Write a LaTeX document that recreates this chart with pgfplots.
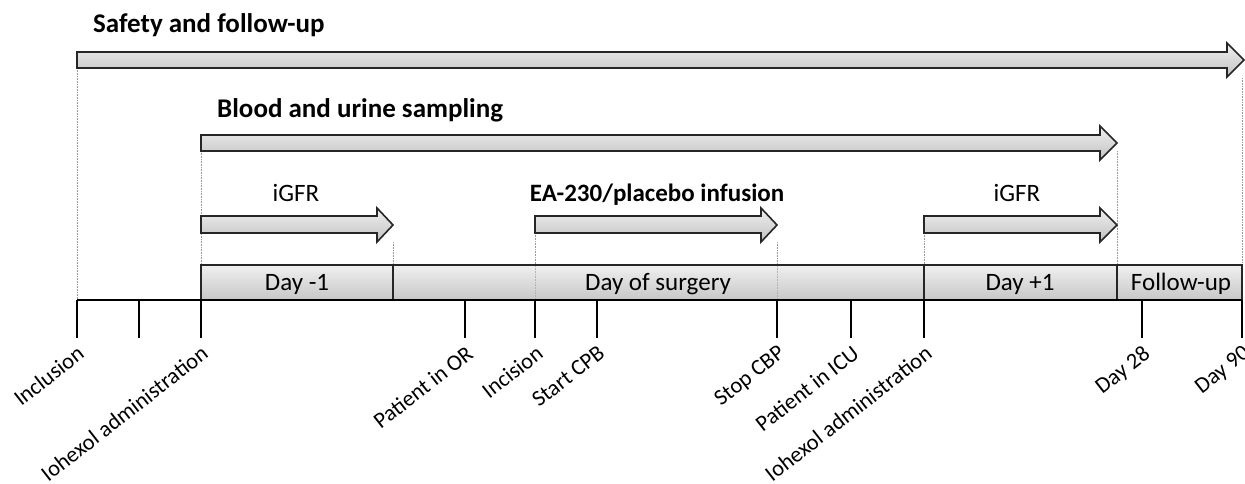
\documentclass[border=0pt]{standalone}
\usepackage{pgfplots}
\pgfplotsset{compat=1.18}
\usepackage{fontspec}
\setmainfont{Carlito}
\tikzset{evt/.style={anchor=north east, inner sep=0, rotate=38, font=\fontsize{22.5}{26}\selectfont},
  blockarrow/.style={draw=black!85, line width=1.6pt, line join=miter, top color=black!6, bottom color=black!24},
  daybox/.style={draw=black!85, line width=1.3pt, top color=black!6, bottom color=black!22}}
\begin{document}
\begin{tikzpicture}
\begin{axis}[hide axis, scale only axis, width=1245pt, height=484pt,
  xmin=0, xmax=1245, ymin=0, ymax=484, y dir=reverse, clip=false,
  every axis plot/.append style={mark=none, forget plot}]
\coordinate (BL) at (axis cs:0,484);
\coordinate (TR) at (axis cs:1245,0);
% guide lines
\addplot[black!40, densely dotted, line width=0.6pt, unbounded coords=jump] coordinates {
 (77,68) (77,300) (77,nan)
 (1242,78) (1242,265) (1242,nan)
 (201,151) (201,265) (201,nan)
 (1117,151) (1117,265) (1117,nan)
 (393,242) (393,265) (393,nan)
 (535,233) (535,300) (535,nan)
 (777,242) (777,300) (777,nan)
 (924,233) (924,265)};
% arrows
\addplot[blockarrow] coordinates {(77,52) (1227,52) (1227,43) (1244,60) (1227,77) (1227,68) (77,68)} -- cycle;
\addplot[blockarrow] coordinates {(201,135) (1100,135) (1100,126) (1117,143) (1100,160) (1100,151) (201,151)} -- cycle;
\addplot[blockarrow] coordinates {(201,216) (377,216) (377,208) (393,225) (377,242) (377,233) (201,233)} -- cycle;
\addplot[blockarrow] coordinates {(535,216) (761,216) (761,208) (777,225) (761,242) (761,233) (535,233)} -- cycle;
\addplot[blockarrow] coordinates {(924,216) (1100,216) (1100,208) (1117,225) (1100,242) (1100,233) (924,233)} -- cycle;
% day boxes
\addplot[daybox] coordinates {(201,265) (393,265) (393,300) (201,300)} -- cycle;
\addplot[daybox] coordinates {(393,265) (924,265) (924,300) (393,300)} -- cycle;
\addplot[daybox] coordinates {(924,265) (1117,265) (1117,300) (924,300)} -- cycle;
\addplot[daybox] coordinates {(1117,265) (1242,265) (1242,300) (1117,300)} -- cycle;
\addplot[black!30, densely dotted, line width=0.6pt] coordinates {(535,266) (535,299)};
\addplot[black!30, densely dotted, line width=0.6pt] coordinates {(777,266) (777,299)};
% baseline and ticks
\addplot[black, line width=1.4pt] coordinates {(77,300) (1242,300)};
\addplot[black, line width=1.4pt, unbounded coords=jump] coordinates {
 (77,300) (77,338) (77,nan)
 (139,300) (139,338) (139,nan)
 (201,300) (201,338) (201,nan)
 (465,300) (465,338) (465,nan)
 (535,300) (535,338) (535,nan)
 (597,300) (597,338) (597,nan)
 (777,300) (777,338) (777,nan)
 (851,300) (851,338) (851,nan)
 (924,300) (924,338) (924,nan)
 (1142,300) (1142,338) (1142,nan)
 (1242,300) (1242,338)};
% titles
\node[anchor=base west, inner sep=0, font=\bfseries\fontsize{27}{32}\selectfont] at (axis cs:93,33) {Safety and follow-up};
\node[anchor=base west, inner sep=0, font=\bfseries\fontsize{27}{32}\selectfont] at (axis cs:217,118) {Blood and urine sampling};
\node[anchor=base, inner sep=0, font=\fontsize{25}{30}\selectfont] at (axis cs:296,201) {iGFR};
\node[anchor=base, inner sep=0, font=\bfseries\fontsize{25}{30}\selectfont] at (axis cs:657,201) {EA-230/placebo infusion};
\node[anchor=base, inner sep=0, font=\fontsize{25}{30}\selectfont] at (axis cs:1017,201) {iGFR};
% day labels
\node[anchor=base, inner sep=0, font=\fontsize{25}{30}\selectfont] at (axis cs:297,290) {Day -1};
\node[anchor=base, inner sep=0, font=\fontsize{25}{30}\selectfont] at (axis cs:658,290) {Day of surgery};
\node[anchor=base, inner sep=0, font=\fontsize{25}{30}\selectfont] at (axis cs:1020,290) {Day +1};
\node[anchor=base, inner sep=0, font=\fontsize{25}{30}\selectfont] at (axis cs:1181,290) {Follow-up};
% event labels
\node[evt] at (axis cs:76,344) {Inclusion};
\node[evt] at (axis cs:200,344) {Iohexol administration};
\node[evt] at (axis cs:465,344) {Patient in OR};
\node[evt] at (axis cs:535,344) {Incision};
\node[evt] at (axis cs:597,344) {Start CPB};
\node[evt] at (axis cs:777,344) {Stop CBP};
\node[evt] at (axis cs:851,344) {Patient in ICU};
\node[evt] at (axis cs:924,344) {Iohexol administration};
\node[evt] at (axis cs:1142,344) {Day 28};
\node[evt] at (axis cs:1242,344) {Day 90};
\end{axis}
\pgfresetboundingbox
\path[use as bounding box] (BL) rectangle (TR);
\end{tikzpicture}
\end{document}
